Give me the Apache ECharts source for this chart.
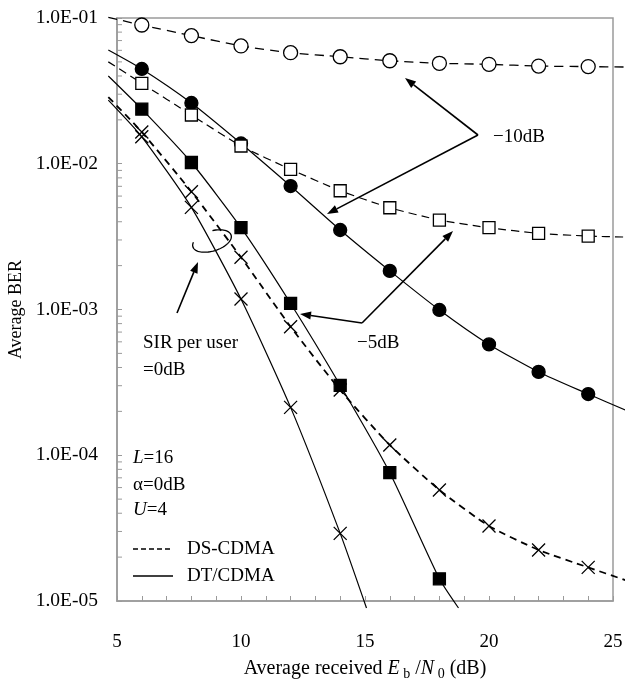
<!DOCTYPE html>
<html><head><meta charset="utf-8">
<script src="https://cdn.jsdelivr.net/npm/echarts@6/dist/echarts.min.js"></script>
<style>html,body{margin:0;padding:0;background:#fff}#c{width:625px;height:679px}</style>
</head><body><div id="c"></div>
<script>
// ---- data ----
const snr = [6, 8, 10, 12, 14, 16, 18, 20, 22, 24];           // Eb/N0 (dB) of the markers
const dsM10 = [0.0895, 0.0757, 0.0643, 0.0578, 0.0542, 0.0509, 0.0489, 0.0481, 0.0468, 0.0464];   // DS-CDMA, SIR -10dB
const dtM10 = [0.0447, 0.0261, 0.01377, 0.00703, 0.00351, 0.00184, 0.000993, 0.000576, 0.000373, 0.000263]; // DT/CDMA, -10dB
const dsM5  = [0.0356, 0.0216, 0.01324, 0.00916, 0.00653, 0.00499, 0.00411, 0.00364, 0.00333, 0.00319];     // DS-CDMA, -5dB
const dtM5  = [0.0237, 0.0102, 0.00364, 0.0011, 0.000302, 0.0000759, 0.0000142];                           // DT/CDMA, -5dB
const ds0   = [0.0165, 0.00643, 0.00228, 0.000762, 0.00028, 0.0001176, 0.0000578, 0.0000327, 0.0000224, 0.000017]; // DS-CDMA, 0dB
const dt0   = [0.0153, 0.00502, 0.00118, 0.000213, 0.0000291];                                          // DT/CDMA, 0dB
// unmarked ends of each curve, beyond the first/last marker
const leadX = 4.65;
const leadVals = [0.101, 0.0603, 0.050, 0.040, 0.0287, 0.0273];      // order: dsM10, dtM10, dsM5, dtM5, ds0, dt0
const tailX    = [25.5, 25.5, 25.5, 18.77, 25.5, 15.06];
const tailVals = [0.0461, 0.000204, 0.00314, 0.00000895, 0.0000139, 0.00000895];
const yTickLabels = ['1.0E-05', '1.0E-04', '1.0E-03', '1.0E-02', '1.0E-01'];
const xTickLabels = ['5', '10', '15', '20', '25'];
const minorMult = [2, 3, 4, 5, 6, 7, 8, 9];
const decades = [1e-5, 1e-4, 1e-3, 1e-2];

const FONT = '"Liberation Serif", "Times New Roman", serif';

function curvePts(idx, ys) {
  const d = [[leadX, leadVals[idx]]];
  ys.forEach((v, i) => d.push([snr[i], v]));
  d.push([tailX[idx], tailVals[idx]]);
  return d;
}
function markerPts(ys) { return ys.map((v, i) => [snr[i], v]); }
const crossPath = 'path://M0,0L10,10M10,0L0,10';

function curveSeries(name, idx, ys, dash, width) {
  const pts = curvePts(idx, ys);
  return {
    type: 'custom', name: name + ' curve', data: pts, encode: { x: 0, y: 1 }, clip: false, silent: true, z: 3,
    renderItem: (params, api) => {
      if (params.dataIndex !== 0) return null;
      const P = pts.map(p => api.coord(p));
      return { type: 'polyline', shape: { points: P, smooth: 0.2 },
               style: { stroke: '#000', lineWidth: width, lineDash: dash, fill: null } };
    }
  };
}
function markerSeries(name, ys, symbol, size, fill) {
  return {
    type: 'scatter', name, data: markerPts(ys), symbol, symbolSize: size, clip: false,
    itemStyle: { color: fill, borderColor: '#000', borderWidth: 1.3, opacity: 1 },
    emphasis: { disabled: true }, z: 5
  };
}

const minorData = [];
decades.forEach(d => minorMult.forEach(m => minorData.push([5, d * m])));

const series = [
  curveSeries('DS-CDMA -10dB', 0, dsM10, [9, 6], 1.3),
  curveSeries('DT/CDMA -10dB', 1, dtM10, null, 1.2),
  curveSeries('DS-CDMA -5dB', 2, dsM5, [8, 5], 1.2),
  curveSeries('DT/CDMA -5dB', 3, dtM5, null, 1.2),
  curveSeries('DS-CDMA 0dB', 4, ds0, [7, 5], 1.8),
  curveSeries('DT/CDMA 0dB', 5, dt0, null, 1.2),
  markerSeries('DS-CDMA -10dB', dsM10, 'circle', 14, '#fff'),
  markerSeries('DT/CDMA -10dB', dtM10, 'circle', 13, '#000'),
  markerSeries('DS-CDMA -5dB', dsM5, 'rect', 12, '#fff'),
  markerSeries('DT/CDMA -5dB', dtM5, 'rect', 12, '#000'),
  markerSeries('DS-CDMA 0dB', ds0, crossPath, 13, '#000'),
  markerSeries('DT/CDMA 0dB', dt0, crossPath, 13, '#000'),
  {
    type: 'custom', data: minorData, encode: { x: 0, y: 1 }, silent: true, z: 2,
    renderItem: (params, api) => {
      const p = api.coord([api.value(0), api.value(1)]);
      return { type: 'line', shape: { x1: p[0], y1: p[1], x2: p[0] + 5, y2: p[1] },
               style: { stroke: '#9a9a9a', lineWidth: 1 } };
    }
  }
];

function arrow(x1, y1, x2, y2) {
  const dx = x2 - x1, dy = y2 - y1, L = Math.hypot(dx, dy);
  const ux = dx / L, uy = dy / L, hl = 11, hw = 4;
  const bx = x2 - ux * hl, by = y2 - uy * hl;
  return [
    { type: 'line', shape: { x1, y1, x2: bx, y2: by }, style: { stroke: '#000', lineWidth: 1.6 }, z: 10 },
    { type: 'polygon', shape: { points: [[x2, y2], [bx - uy * hw, by + ux * hw], [bx + uy * hw, by - ux * hw]] },
      style: { fill: '#000' }, z: 10 }
  ];
}
function txt(x, y, text, rich) {
  return { type: 'text', x, y, z: 10,
    style: { text, fontFamily: FONT, fontSize: 19, fill: '#000', align: 'left', verticalAlign: 'middle',
             rich: rich || {} } };
}
const ital = { i: { fontFamily: FONT, fontSize: 19, fontStyle: 'italic' } };

// ellipse around the 0dB curves
const ellPts = [];
for (let a = -80; a <= 205; a += 5) {
  const t = a * Math.PI / 180, rot = -17 * Math.PI / 180;
  const ex = 20 * Math.cos(t), ey = 10 * Math.sin(t);
  ellPts.push([212 + ex * Math.cos(rot) - ey * Math.sin(rot), 241 + ex * Math.sin(rot) + ey * Math.cos(rot)]);
}

const graphic = [
  ...arrow(478, 135, 405, 78),
  ...arrow(478, 135, 327, 214),
  ...arrow(362, 323, 300, 314),
  ...arrow(362, 323, 453, 231),
  ...arrow(177, 313, 198, 262),
  { type: 'polyline', shape: { points: ellPts }, style: { stroke: '#000', lineWidth: 1.3, fill: null }, z: 10 },
  txt(493, 137, '\u221210dB'),
  txt(357, 343, '\u22125dB'),
  txt(143, 343, 'SIR per user'),
  txt(143, 370, '=0dB'),
  txt(133, 458, '{i|L}=16', ital),
  txt(133, 485, '\u03b1=0dB'),
  txt(133, 510, '{i|U}=4', ital),
  { type: 'line', shape: { x1: 133, y1: 549, x2: 173, y2: 549 }, style: { stroke: '#000', lineWidth: 1.3, lineDash: [5, 3] }, z: 10 },
  { type: 'line', shape: { x1: 133, y1: 576, x2: 173, y2: 576 }, style: { stroke: '#000', lineWidth: 1.3 }, z: 10 },
  txt(187, 549, 'DS-CDMA'),
  txt(187, 576, 'DT/CDMA')
];

const chart = echarts.init(document.getElementById('c'), null, { renderer: 'canvas' });
chart.setOption({
  animation: false,
  backgroundColor: '#fff',
  grid: { left: 117, right: 12, top: 18, bottom: 78, containLabel: false, outerBoundsMode: 'none',
          show: true, borderColor: '#9a9a9a', borderWidth: 1.5 },
  xAxis: {
    type: 'value', min: 5, max: 25, interval: 1,
    name: 'Average received {i|E}{s| b} /{i|N}{s| 0} (dB)', nameLocation: 'middle', nameGap: 56,
    nameTextStyle: { fontFamily: FONT, fontSize: 20, color: '#000',
      rich: { i: { fontFamily: FONT, fontSize: 20, fontStyle: 'italic' },
              s: { fontFamily: FONT, fontSize: 14, padding: [10, 0, 0, 0] } } },
    axisLine: { lineStyle: { color: '#9a9a9a', width: 1.5 } },
    axisTick: { inside: true, length: 5, lineStyle: { color: '#9a9a9a' } },
    splitLine: { show: false },
    axisLabel: { margin: 32, fontFamily: FONT, fontSize: 19, color: '#000',
      formatter: v => (v % 5 === 0 ? xTickLabels[(v - 5) / 5] : '') }
  },
  yAxis: {
    type: 'log', logBase: 10, min: 1e-5, max: 0.1,
    name: 'Average BER', nameLocation: 'middle', nameGap: 79, nameRotate: 90,
    nameTextStyle: { fontFamily: FONT, fontSize: 18, color: '#000' },
    axisLine: { show: true, lineStyle: { color: '#9a9a9a', width: 1.5 } },
    axisTick: { show: true, inside: true, length: 5, lineStyle: { color: '#9a9a9a' } },
    splitLine: { show: false },
    axisLabel: { margin: 19, fontFamily: FONT, fontSize: 19.5, color: '#000',
      formatter: v => yTickLabels[Math.round(Math.log10(v)) + 5] }
  },
  series,
  graphic
});
</script></body></html>
